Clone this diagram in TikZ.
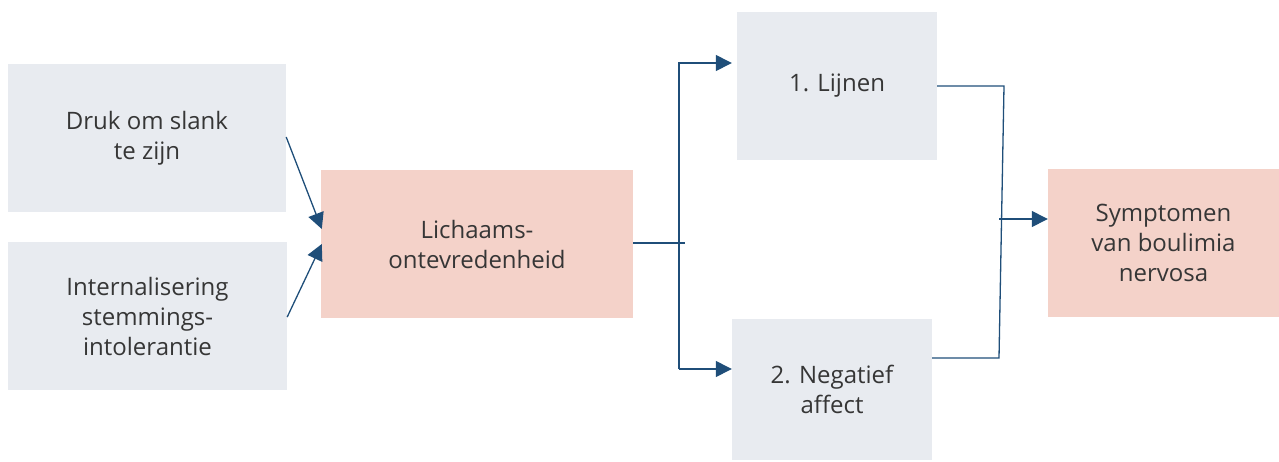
\documentclass[tikz,border=0pt]{standalone}
\usepackage{fontspec}
\setmainfont[Ligatures=NoCommon]{Open Sans}
\usetikzlibrary{arrows.meta,calc}
\definecolor{boxgray}{HTML}{E8EBF0}
\definecolor{boxpink}{HTML}{F4D2C9}
\definecolor{linkblue}{HTML}{1F4E79}
\definecolor{txt}{HTML}{363636}
\begin{document}
\begin{tikzpicture}[x=1pt,y=-1pt,
  box/.style={inner sep=0pt, align=center, text=txt,
    font=\fontsize{24}{30}\selectfont},
  graybox/.style={box, fill=boxgray},
  pinkbox/.style={box, fill=boxpink},
  link/.style={draw=linkblue, line width=1.3pt},
  arr/.style={link, -{Triangle[length=16pt,width=16pt]}}]
\useasboundingbox (0,0) rectangle (1279,461);
\node[graybox, minimum width=278pt, minimum height=148pt] (b1) at (147,138) {Druk om slank\\te zijn};
\node[graybox, minimum width=279pt, minimum height=148pt] (b2) at (147.5,316) {Internalisering\\stemmings-\\intolerantie};
\node[pinkbox, minimum width=312pt, minimum height=148pt] (b3) at (477,244) {Lichaams-\\ontevredenheid};
\node[graybox, minimum width=200pt, minimum height=148pt] (b4) at (837,86) {1. Lijnen};
\node[graybox, minimum width=200pt, minimum height=141pt] (b5) at (832,389.5) {2. Negatief\\affect};
\node[pinkbox, minimum width=231pt, minimum height=148pt] (b6) at (1163.5,243) {Symptomen\\van boulimia\\nervosa};

\draw[arr] ($(b1.east)+(0,-1)$) -- ($(b3.west)+(1,-15)$);
\draw[arr] ($(b2.east)+(0,1)$) -- ($(b3.west)+(1,0)$);

\coordinate (s1) at (685,243);
\coordinate (t1) at (679,63);
\coordinate (t2) at (679,369);
\draw[link] ($(b3.east)+(0,-1)$) -- (s1);
\draw[arr] (t2) -- (t1) -- ($(b4.west)+(-5,-23)$);
\draw[arr] (t2) -- ($(b5.west)+(0,-20.5)$);

\coordinate (r1) at (1004,86);
\coordinate (r2) at (999,358);
\coordinate (r3) at (999,219);
\draw[link] (b4.east) -- (r1) -- (r2) -- ($(b5.east)+(0,-31.5)$);
\draw[arr] (r3) -- ($(b6.west)+(0,-24)$);
\end{tikzpicture}
\end{document}
